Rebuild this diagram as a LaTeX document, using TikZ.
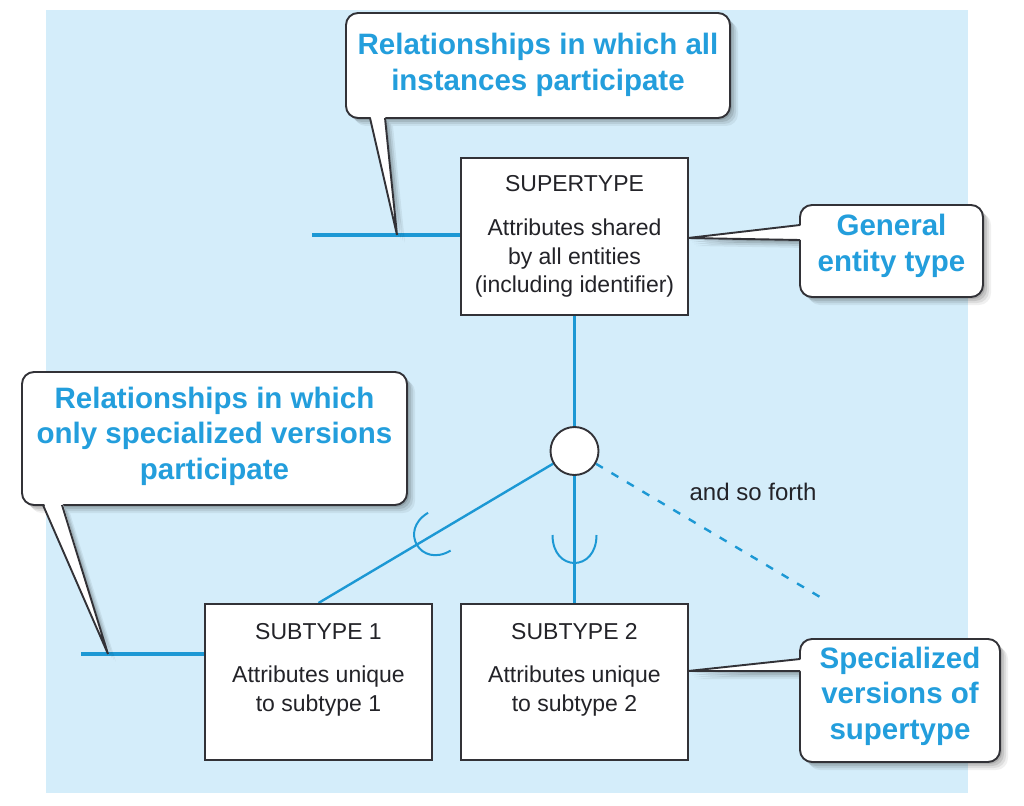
\documentclass[tikz,border=0pt]{standalone}
\usepackage{fontspec}
\setmainfont{Liberation Sans}
\usetikzlibrary{calc}
\definecolor{panel}{RGB}{212,237,250}
\definecolor{linkblue}{RGB}{28,152,212}
\definecolor{callblue}{RGB}{35,158,220}
\definecolor{ink}{RGB}{35,35,40}
\definecolor{edgegray}{RGB}{50,50,55}
\pgfdeclarelayer{bg}
\pgfdeclarelayer{links}
\pgfsetlayers{bg,links,main}
\tikzset{
  entity/.style={draw=edgegray, line width=2pt, fill=white, minimum width=227pt, minimum height=156pt, inner sep=0pt},
  etext/.style={font=\fontsize{23}{28.5}\selectfont, text=ink, align=center, inner sep=0pt},
  ctext/.style={font=\fontsize{29.5}{35.5}\selectfont\bfseries, text=callblue, align=center, inner sep=0pt},
  callborder/.style={draw=edgegray, line width=1.9pt},
  conn/.style={draw=linkblue, line width=3.2pt},
  thinconn/.style={draw=linkblue, line width=2.4pt},
  cupline/.style={draw=linkblue, line width=2pt},
}
\newcommand{\drawcallout}[7]{%
  \foreach \shf/\opc in {8/0.06,6/0.08,4/0.10,2/0.12}{%
    \fill[black,opacity=\opc,shift={(\shf,\shf)},rounded corners=12pt] #1 rectangle #2;
    \fill[black,opacity=\opc,shift={(\shf,\shf)}] #3 -- #7 -- #4 -- cycle;}
  \fill[white,rounded corners=12pt] #1 rectangle #2;
  \fill[white] #3 -- #7 -- #4 -- cycle;
  \draw[callborder,rounded corners=12pt] #1 rectangle #2;
  \fill[white] #5 -- #7 -- #6 -- cycle;
  \draw[callborder,line join=miter] #3 -- #7 -- #4;
}
\begin{document}
\begin{tikzpicture}[x=1pt,y=-1pt]
\useasboundingbox (0,0) rectangle (1024,805);
\begin{pgfonlayer}{bg}
  \fill[white] (0,0) rectangle (1024,805);
  \fill[panel] (46,10) rectangle (968,793);
\end{pgfonlayer}

% entities
\node[entity, minimum height=157pt] (sup) at (574.5,236.5) {};
\node[etext] (suptext) at (sup.center) {SUPERTYPE\\[16pt]Attributes shared\\by all entities\\(including identifier)};
\node[entity] (sub1) at (318.5,682) {};
\node[etext, anchor=north] (sub1text) at ([yshift=-20pt]sub1.north) {SUBTYPE 1\\[15pt]Attributes unique\\to subtype 1};
\node[entity] (sub2) at (574.5,682) {};
\node[etext, anchor=north] (sub2text) at ([yshift=-20pt]sub2.north) {SUBTYPE 2\\[15pt]Attributes unique\\to subtype 2};
\node[circle, draw=edgegray, line width=1.9pt, fill=white, minimum size=48pt, inner sep=0pt] (isa) at (574.5,451) {};
\node[etext, font=\fontsize{24}{28}\selectfont] (etclabel) at (753,492) {and so forth};

% connectors
\coordinate (l1end) at (312,235);
\coordinate (l2end) at (81,654);
\coordinate (etc) at (820,597);
\begin{pgfonlayer}{links}
  \draw[conn] (l1end) -- (l1end -| sup.west);
  \draw[conn] (l2end) -- (l2end -| sub1.west);
  \draw[conn] (sup.south) -- (isa.north);
  \draw[conn] (isa.south) -- (sub2.north);
  \draw[thinconn] (isa) -- (sub1.north);
  \draw[thinconn, dash pattern=on 8pt off 10pt] (isa) -- (etc);
\end{pgfonlayer}

% subset symbols
\begin{scope}[shift={(574.5,563)}, rotate=90]
  \draw[cupline] (28,-22) .. controls (-9.33,-22) and (-9.33,22) .. (28,22);
\end{scope}
\begin{scope}[shift={(417,545)}, rotate=30.8]
  \draw[cupline] (26,-22) .. controls (-8.67,-22) and (-8.67,22) .. (26,22);
\end{scope}

% callouts
\drawcallout{(346,13)}{(730,118)}{(370,118)}{(385,118)}{(370,114)}{(385,114)}{(397,235)}
\node[ctext] (call1) at (538,65) {Relationships in which all\\instances participate};

\drawcallout{(22,372)}{(407,505)}{(43,505)}{(62,505)}{(43,501)}{(62,501)}{(108,654)}
\node[ctext] (call2) at (214.5,436) {Relationships in which\\only specialized versions\\participate};

\drawcallout{(800,205)}{(983,297)}{(800,225)}{(800,240)}{(804,225)}{(804,240)}{(688,238)}
\node[ctext] (call3) at (891.5,246) {General\\entity type};

\drawcallout{(800,639)}{(1000,762)}{(800,659)}{(800,671)}{(804,659)}{(804,671)}{(688,671)}
\node[ctext] (call4) at (900,696) {Specialized\\versions of\\supertype};
\end{tikzpicture}
\end{document}
